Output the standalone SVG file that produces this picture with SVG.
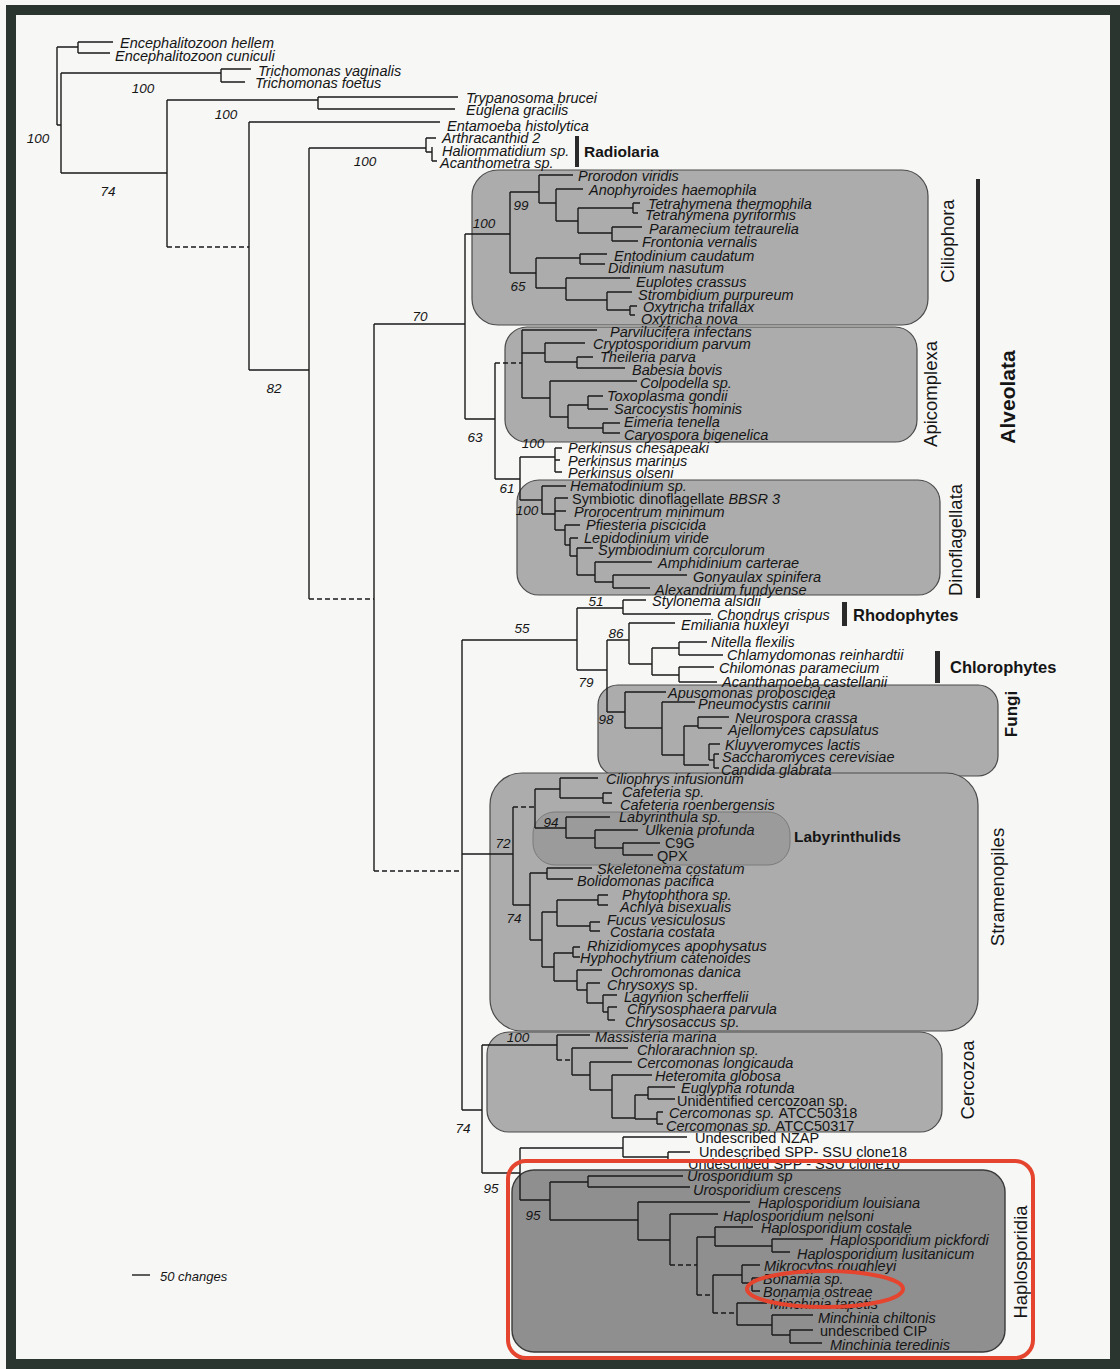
<svg xmlns="http://www.w3.org/2000/svg" width="1120" height="1369" viewBox="0 0 1120 1369">
<style>
text{font-family:"Liberation Sans",Arial,sans-serif;dominant-baseline:central;fill:#151515}
.t{font-size:14.5px;font-style:italic}
.r{font-size:14.5px}
.s{font-size:13.5px;font-style:italic;text-anchor:middle}
.gl{font-size:18.5px;text-anchor:middle}
.gb{font-size:16.5px;font-weight:bold}
.box{fill:#acacac;stroke:#4a4a4a;stroke-width:1.2}
.b{fill:none;stroke:#1a1a1a;stroke-width:1.4}
.d{fill:none;stroke:#1a1a1a;stroke-width:1.4;stroke-dasharray:5 3}
.bar{fill:#2a2a2a}
.red{fill:none;stroke:#e5452f;stroke-width:4}
</style>
<rect x="0" y="0" width="1120" height="1369" fill="#f7f7f5"/>
<rect x="11" y="10" width="1104" height="1354" fill="none" stroke="#2b3530" stroke-width="10"/>

<g id="boxes">
<rect id="box-ciliophora" class="box" x="472" y="170" width="456" height="155" rx="26"/>
<rect id="box-apicomplexa" class="box" x="505" y="327" width="412" height="115" rx="22"/>
<rect id="box-dinoflagellata" class="box" x="517" y="480" width="423" height="115" rx="22"/>
<rect id="box-fungi" class="box" x="598" y="685" width="400" height="91" rx="20"/>
<rect id="box-stramenopiles" class="box" x="490" y="773" width="488" height="258" rx="32"/>
<rect id="box-labyrinthulids" x="533" y="812" width="257" height="53" rx="22" fill="#9b9b9b" stroke="#7a7a7a" stroke-width="1"/>
<rect id="box-cercozoa" class="box" x="487" y="1032" width="455" height="100" rx="22"/>
<rect id="box-haplosporidia" x="512" y="1170" width="493" height="182" rx="22" fill="#8f8f8f" stroke="#3a3a3a" stroke-width="1.4"/>
</g>

<g id="connectors">
<path class="b" d="M57 47V125M57 125H61M61 73V173M57 47H78M78 42V53M78 42H113M78 53H110M61 73H221M221 69V82M221 69H251M221 82H245M61 173H167M167 100V247M167 100H318M318 97V109M318 97H458M318 109H455M249 122V370M249 122H440M249 370H309M309 148V599M309 148H426M426 138V152M426 138H436M426 152H432M432 147V161M432 161H437M374 324V871M374 324H465M465 234V419M465 419H495M495 363V479M495 479H520M520 457V500M462 640V1110M462 640H577M462 854H513M462 1110H482M482 1045V1173M482 1173H520M520 1148V1200"/>
<path class="d" d="M167 247H249M309 599H374M374 871H462"/>
<path class="b" d="M465 234H510M510 192V273M510 192H539M539 175V203M539 175H573M539 203H556M556 189V221M556 189H583M556 221H578M578 208V233M578 208H633M633 203V213M633 203H640M633 213H638M578 233H612M612 227V241M612 227H642M612 241H638M510 273H536M536 258V288M536 258H580M580 254V264M580 254H607M580 264H605M536 288H566M566 278V300M566 278H630M566 300H607M607 292V310M607 292H632M607 310H630M630 306V315M630 306H637M630 315H635"/>
<path class="d" d="M495 363H522"/>
<path class="b" d="M522 330V398M522 330H597M522 353H545M545 343V362M545 343H585M545 362H577M577 357V368M577 357H593M577 368H625M522 398H550M550 381V417M550 381H637M550 417H568M568 405V428M568 405H588M588 396V409M588 396H603M588 409H608M568 428H603M603 423V433M603 423H620M603 433H620"/>
<path class="b" d="M520 457H555M555 448V472M555 448H562M555 460H560M555 472H562"/>
<path class="b" d="M520 500H542M542 486V514M542 486H566M542 514H555M555 498V530M555 498H568M555 511H566M555 530H565M565 525V545M565 525H580M565 545H570M570 538V556M570 538H578M570 556H577M577 548V575M577 548H593M577 575H595M595 562V582M595 562H652M595 582H613M613 575V588M613 575H687M613 588H650"/>
<path class="b" d="M577 608V670M577 608H623M623 600V614M623 600H646M623 614H711M577 670H607M607 640V712M607 640H629M629 623V664M629 623H675M629 664H652M652 648V675M652 648H679M679 642V655M679 642H707M679 655H723M652 675H679M679 667V682M679 667H714M679 682H717M607 712H625M625 692V728M625 692H666M625 728H662M662 702V755M662 702H695M662 755H684M684 726V765M684 726H698M698 717V728M698 717H729M698 728H722M684 765H709M709 744V760M709 744H720M709 760H714M714 754V768M714 754H719M714 768H719"/>
<path class="d" d="M513 807H535"/>
<path class="b" d="M513 807V905M535 789V828M535 789H560M560 778V798M560 778H598M560 798H603M603 793V803M603 793H612M603 803H612M535 828H566M566 817V838M566 817H610M566 838H595M595 830V848M595 830H638M595 848H623M623 843V855M623 843H660M623 855H653M513 905H530M530 873V940M530 873H547M547 868V879M547 868H592M547 879H573M530 940H542M542 912V967M542 912H557M557 900V926M557 900H598M598 895V905M598 895H608M598 905H608M557 926H590M590 922V931M590 922H600M590 931H600M542 967H554M554 953V981M554 953H573M573 947V957M573 947H580M573 957H580M554 981H577M577 970V990M577 970H602M577 990H587M587 983V1003M587 983H600M587 1003H603M603 995V1012M603 995H617M603 1012H608M608 1007V1020M608 1007H617M608 1020H615"/>
<path class="d" d="M557 1060H572"/>
<path class="b" d="M482 1045H557M557 1035V1060M557 1035H590M572 1048V1075M572 1048H628M572 1075H590M590 1062V1090M590 1062H632M590 1090H612M612 1075V1118M612 1075H652M612 1118H635M635 1095V1119M635 1095H648M648 1087V1099M648 1087H675M648 1099H675M635 1119H657M657 1112V1124M657 1112H663M657 1124H663"/>
<path class="b" d="M520 1148H623M623 1137V1157M623 1137H687M623 1157H668M668 1152V1162M668 1152H690M668 1162H680"/>
<path class="d" d="M670 1265H697M697 1295H713M713 1313H737"/>
<path class="b" d="M520 1200H550M550 1182V1220M550 1182H588M588 1176V1187M588 1176H683M588 1187H690M550 1220H638M638 1202V1240M638 1202H750M638 1240H670M670 1214V1265M670 1214H718M697 1237V1295M697 1237H715M715 1227V1246M715 1227H753M715 1246H772M772 1239V1252M772 1239H823M772 1252H790M713 1275V1313M713 1275H742M742 1265V1283M742 1265H760M742 1283H752M752 1278V1291M752 1278H760M752 1291H760M737 1303V1325M737 1303H767M737 1325H772M772 1315V1335M772 1315H813M772 1335H790M790 1330V1343M790 1330H813M790 1343H822"/>
<path class="b" d="M132 1275H150"/>
</g>

<g id="support">
<text class="s" x="38" y="138">100</text>
<text class="s" x="108" y="191">74</text>
<text class="s" x="143" y="88">100</text>
<text class="s" x="226" y="114">100</text>
<text class="s" x="365" y="161">100</text>
<text class="s" x="274" y="388">82</text>
<text class="s" x="420" y="316">70</text>
<text class="s" x="484" y="223">100</text>
<text class="s" x="521" y="205">99</text>
<text class="s" x="518" y="286">65</text>
<text class="s" x="475" y="437">63</text>
<text class="s" x="533" y="443">100</text>
<text class="s" x="507" y="488">61</text>
<text class="s" x="527" y="510">100</text>
<text class="s" x="596" y="601">51</text>
<text class="s" x="522" y="628">55</text>
<text class="s" x="616" y="633">86</text>
<text class="s" x="586" y="682">79</text>
<text class="s" x="606" y="719">98</text>
<text class="s" x="503" y="843">72</text>
<text class="s" x="551" y="822">94</text>
<text class="s" x="514" y="918">74</text>
<text class="s" x="518" y="1037">100</text>
<text class="s" x="463" y="1128">74</text>
<text class="s" x="491" y="1188">95</text>
<text class="s" x="533" y="1215">95</text>
<text class="t" x="160" y="1276" style="font-size:13px">50 changes</text>
</g>

<g id="outgroups">
<text class="t" x="120" y="43">Encephalitozoon hellem</text>
<text class="t" x="115" y="56">Encephalitozoon cuniculi</text>
<text class="t" x="258" y="71">Trichomonas vaginalis</text>
<text class="t" x="255" y="83">Trichomonas foetus</text>
<text class="t" x="466" y="98">Trypanosoma brucei</text>
<text class="t" x="466" y="110">Euglena gracilis</text>
<text class="t" x="447" y="126">Entamoeba histolytica</text>
</g>

<g id="radiolaria">
<text class="t" x="442" y="138">Arthracanthid 2</text>
<text class="t" x="442" y="151">Haliommatidium sp.</text>
<text class="t" x="440" y="163">Acanthometra sp.</text>
<rect class="bar" x="575" y="136" width="4" height="31"/>
<text class="gb" x="584" y="151" style="font-size:15.5px">Radiolaria</text>
</g>

<g id="ciliophora">
<text class="t" x="578" y="176">Prorodon viridis</text>
<text class="t" x="589" y="190">Anophyroides haemophila</text>
<text class="t" x="648" y="204">Tetrahymena thermophila</text>
<text class="t" x="645" y="215">Tetrahymena pyriformis</text>
<text class="t" x="649" y="229">Paramecium tetraurelia</text>
<text class="t" x="642" y="242">Frontonia vernalis</text>
<text class="t" x="614" y="256">Entodinium caudatum</text>
<text class="t" x="608" y="268">Didinium nasutum</text>
<text class="t" x="636" y="282">Euplotes crassus</text>
<text class="t" x="638" y="295">Strombidium purpureum</text>
<text class="t" x="643" y="307">Oxytricha trifallax</text>
<text class="t" x="641" y="319">Oxytricha nova</text>
<text class="gl" transform="translate(947 241) rotate(-90)">Ciliophora</text>
</g>

<g id="apicomplexa">
<text class="t" x="610" y="332">Parvilucifera infectans</text>
<text class="t" x="593" y="344">Cryptosporidium parvum</text>
<text class="t" x="600" y="357">Theileria parva</text>
<text class="t" x="632" y="370">Babesia bovis</text>
<text class="t" x="640" y="383">Colpodella sp.</text>
<text class="t" x="607" y="396">Toxoplasma gondii</text>
<text class="t" x="614" y="409">Sarcocystis hominis</text>
<text class="t" x="624" y="422">Eimeria tenella</text>
<text class="t" x="624" y="435">Caryospora bigenelica</text>
<text class="gl" transform="translate(930 394) rotate(-90)">Apicomplexa</text>
</g>

<g id="perkinsus">
<text class="t" x="568" y="448">Perkinsus chesapeaki</text>
<text class="t" x="568" y="461">Perkinsus marinus</text>
<text class="t" x="568" y="473">Perkinsus olseni</text>
</g>

<g id="dinoflagellata">
<text class="t" x="570" y="486">Hematodinium sp.</text>
<text class="r" x="572" y="499">Symbiotic dinoflagellate <tspan font-style="italic">BBSR 3</tspan></text>
<text class="t" x="574" y="512">Prorocentrum minimum</text>
<text class="t" x="586" y="525">Pfiesteria piscicida</text>
<text class="t" x="584" y="538">Lepidodinium viride</text>
<text class="t" x="598" y="550">Symbiodinium corculorum</text>
<text class="t" x="658" y="563">Amphidinium carterae</text>
<text class="t" x="693" y="577">Gonyaulax spinifera</text>
<text class="t" x="655" y="590">Alexandrium fundyense</text>
<text class="gl" transform="translate(955 540) rotate(-90)">Dinoflagellata</text>
</g>

<g id="alveolata">
<rect class="bar" x="976" y="179" width="4" height="419"/>
<text class="gl" transform="translate(1007 397) rotate(-90)" style="font-weight:bold;font-size:21px">Alveolata</text>
</g>

<g id="rhodophytes">
<text class="t" x="652" y="601">Stylonema alsidii</text>
<text class="t" x="717" y="615">Chondrus crispus</text>
<rect class="bar" x="842" y="602" width="5" height="24"/>
<text class="gb" x="853" y="615">Rhodophytes</text>
</g>

<g id="chlorophytes">
<text class="t" x="681" y="625">Emiliania huxleyi</text>
<text class="t" x="711" y="642">Nitella flexilis</text>
<text class="t" x="727" y="655">Chlamydomonas reinhardtii</text>
<text class="t" x="719" y="668">Chilomonas paramecium</text>
<text class="t" x="722" y="682">Acanthamoeba castellanii</text>
<rect class="bar" x="935" y="651" width="5" height="32"/>
<text class="gb" x="950" y="667">Chlorophytes</text>
</g>

<g id="fungi">
<text class="t" x="668" y="693">Apusomonas proboscidea</text>
<text class="t" x="698" y="704">Pneumocystis carinii</text>
<text class="t" x="735" y="718">Neurospora crassa</text>
<text class="t" x="728" y="730">Ajellomyces capsulatus</text>
<text class="t" x="725" y="745">Kluyveromyces lactis</text>
<text class="t" x="722" y="757">Saccharomyces cerevisiae</text>
<text class="t" x="721" y="770">Candida glabrata</text>
<text class="gl" transform="translate(1011 714) rotate(-90)" style="font-weight:bold;font-size:17px">Fungi</text>
</g>

<g id="stramenopiles">
<text class="t" x="606" y="779">Ciliophrys infusionum</text>
<text class="t" x="622" y="792">Cafeteria sp.</text>
<text class="t" x="620" y="805">Cafeteria roenbergensis</text>
<text class="t" x="619" y="817">Labyrinthula sp.</text>
<text class="t" x="645" y="830">Ulkenia profunda</text>
<text class="r" x="665" y="843">C9G</text>
<text class="r" x="657" y="856">QPX</text>
<text class="gb" x="794" y="836" style="font-size:15.5px">Labyrinthulids</text>
<text class="t" x="597" y="869">Skeletonema costatum</text>
<text class="t" x="577" y="881">Bolidomonas pacifica</text>
<text class="t" x="622" y="895">Phytophthora sp.</text>
<text class="t" x="620" y="907">Achlya bisexualis</text>
<text class="t" x="607" y="920">Fucus vesiculosus</text>
<text class="t" x="610" y="932">Costaria costata</text>
<text class="t" x="587" y="946">Rhizidiomyces apophysatus</text>
<text class="t" x="580" y="958">Hyphochytrium catenoides</text>
<text class="t" x="611" y="972">Ochromonas danica</text>
<text class="t" x="607" y="985"><tspan>Chrysoxys</tspan><tspan font-style="normal"> sp.</tspan></text>
<text class="t" x="624" y="997">Lagynion scherffelii</text>
<text class="t" x="627" y="1009">Chrysosphaera parvula</text>
<text class="t" x="625" y="1022">Chrysosaccus sp.</text>
<text class="gl" transform="translate(997 887) rotate(-90)">Stramenopiles</text>
</g>

<g id="cercozoa">
<text class="t" x="595" y="1037">Massisteria marina</text>
<text class="t" x="637" y="1050">Chlorarachnion sp.</text>
<text class="t" x="637" y="1063">Cercomonas longicauda</text>
<text class="t" x="655" y="1076">Heteromita globosa</text>
<text class="t" x="681" y="1088">Euglypha rotunda</text>
<text class="r" x="677" y="1101">Unidentified cercozoan sp.</text>
<text class="t" x="669" y="1113">Cercomonas sp. <tspan font-style="normal">ATCC50318</tspan></text>
<text class="t" x="666" y="1126">Cercomonas sp. <tspan font-style="normal">ATCC50317</tspan></text>
<text class="gl" transform="translate(967 1080) rotate(-90)">Cercozoa</text>
</g>

<g id="undescribed">
<text class="r" x="695" y="1138">Undescribed NZAP</text>
<text class="r" x="699" y="1152">Undescribed SPP- SSU clone18</text>
<text class="r" x="688" y="1164">Undescribed SPP - SSU clone10</text>
</g>

<g id="haplosporidia">
<text class="t" x="687" y="1176">Urosporidium sp</text>
<text class="t" x="693" y="1190">Urosporidium crescens</text>
<text class="t" x="758" y="1203">Haplosporidium louisiana</text>
<text class="t" x="723" y="1216">Haplosporidium nelsoni</text>
<text class="t" x="761" y="1228">Haplosporidium costale</text>
<text class="t" x="830" y="1240">Haplosporidium pickfordi</text>
<text class="t" x="797" y="1254">Haplosporidium lusitanicum</text>
<text class="t" x="764" y="1266">Mikrocytos roughleyi</text>
<text class="t" x="763" y="1279">Bonamia sp.</text>
<text class="t" x="763" y="1292">Bonamia ostreae</text>
<text class="t" x="770" y="1304">Minchinia tapetis</text>
<text class="t" x="818" y="1318">Minchinia chiltonis</text>
<text class="r" x="820" y="1331">undescribed CIP</text>
<text class="t" x="830" y="1345">Minchinia teredinis</text>
<text class="gl" transform="translate(1020 1262) rotate(-90)">Haplosporidia</text>
</g>

<g id="highlight">
<rect class="red" x="508" y="1161" width="525" height="197" rx="18"/>
<ellipse class="red" cx="825" cy="1289" rx="78" ry="18"/>
</g>
</svg>
